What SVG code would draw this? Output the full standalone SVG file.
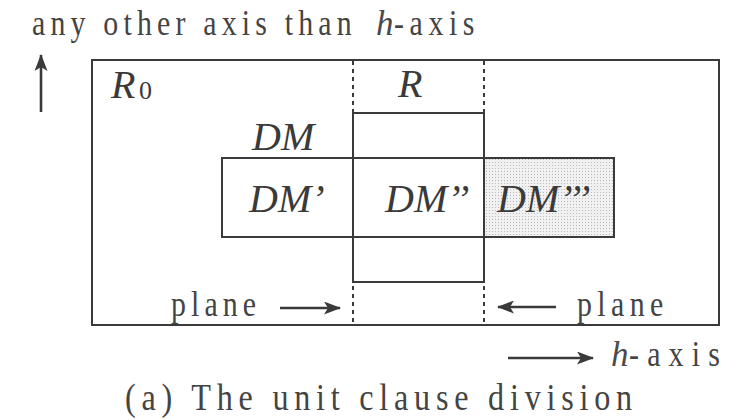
<svg xmlns="http://www.w3.org/2000/svg" width="741" height="420" viewBox="0 0 741 420">
<style>
.box{fill:none;stroke:#3a3a3a;stroke-width:2}
.dash{stroke:#3a3a3a;stroke-width:2;stroke-dasharray:4 4}
.arr{stroke:#3a3a3a;stroke-width:2.6;fill:none}
.ser{font-family:"Liberation Serif",serif;font-size:26px;fill:#444444}
.it{font-family:"Liberation Serif",serif;font-style:italic;font-size:40px;fill:#3a3a3a}
.ith{font-family:"Liberation Serif",serif;font-style:italic;font-size:35px;fill:#4a4a4a}
.sub{font-family:"Liberation Serif",serif;font-size:26px;fill:#3a3a3a}
</style>
<defs>
<marker id="ah" viewBox="0 0 17 13" refX="16" refY="6.5" markerWidth="17" markerHeight="13" markerUnits="userSpaceOnUse" orient="auto">
<path d="M0,0 L17,6.5 L0,13 L4,6.5 Z" fill="#3a3a3a"/>
</marker>
<pattern id="dots" width="3" height="3" patternUnits="userSpaceOnUse">
<rect width="3" height="3" fill="#f1f1f1"/>
<rect width="1" height="1" fill="#b8b8b8"/>
</pattern>
</defs>
<rect width="741" height="420" fill="#ffffff"/>

<g id="title">
<text class="ser" transform="translate(32,35) scale(1.15,1.4)" textLength="278" lengthAdjust="spacing">any other axis than</text>
<text class="ith" x="376" y="35">h</text>
<text class="ser" transform="translate(394,35) scale(1.15,1.4)" textLength="70" lengthAdjust="spacing">-axis</text>
</g>

<g id="R0">
<rect class="box" x="92" y="60" width="627" height="265"/>
<text class="it" x="111" y="98">R</text>
<text class="sub" x="139" y="99">0</text>
</g>

<g id="DM">
<rect x="484" y="158" width="130" height="79" fill="url(#dots)"/>
<rect class="box" x="222" y="158" width="392" height="79"/>
<text class="it" x="252" y="150">DM</text>
</g>

<g id="R">
<rect class="box" x="353" y="113" width="131" height="169"/>
<text class="it" x="398" y="97">R</text>
</g>

<g id="DM1"><text class="it" x="249" y="212">DM’</text></g>
<g id="DM2"><text class="it" x="385" y="212">DM’’</text></g>
<g id="DM3"><text class="it" x="497" y="212">DM’’’</text></g>

<g id="planes">
<line class="dash" x1="353" y1="61" x2="353" y2="113"/>
<line class="dash" x1="484" y1="61" x2="484" y2="113"/>
<line class="dash" x1="353" y1="286" x2="353" y2="324"/>
<line class="dash" x1="484" y1="286" x2="484" y2="324"/>
<text class="ser" transform="translate(171,316) scale(1.15,1.4)" textLength="74" lengthAdjust="spacing">plane</text>
<text class="ser" transform="translate(577,316) scale(1.15,1.4)" textLength="75" lengthAdjust="spacing">plane</text>
</g>

<g id="axis-h">
<text class="ith" x="611" y="366">h</text>
<text class="ser" transform="translate(629,366) scale(1.15,1.4)" textLength="79" lengthAdjust="spacing">-axis</text>
</g>

<g id="caption">
<text class="ser" transform="translate(125,410) scale(1.15,1.36)" style="font-size:28px" textLength="441" lengthAdjust="spacing">(a) The unit clause division</text>
</g>

<g id="connectors">
<line class="arr" x1="41" y1="112" x2="41" y2="55" marker-end="url(#ah)"/>
<line class="arr" x1="280" y1="308" x2="340" y2="308" marker-end="url(#ah)"/>
<line class="arr" x1="556" y1="307" x2="498" y2="307" marker-end="url(#ah)"/>
<line class="arr" x1="508" y1="358" x2="593" y2="358" marker-end="url(#ah)"/>
</g>
</svg>
